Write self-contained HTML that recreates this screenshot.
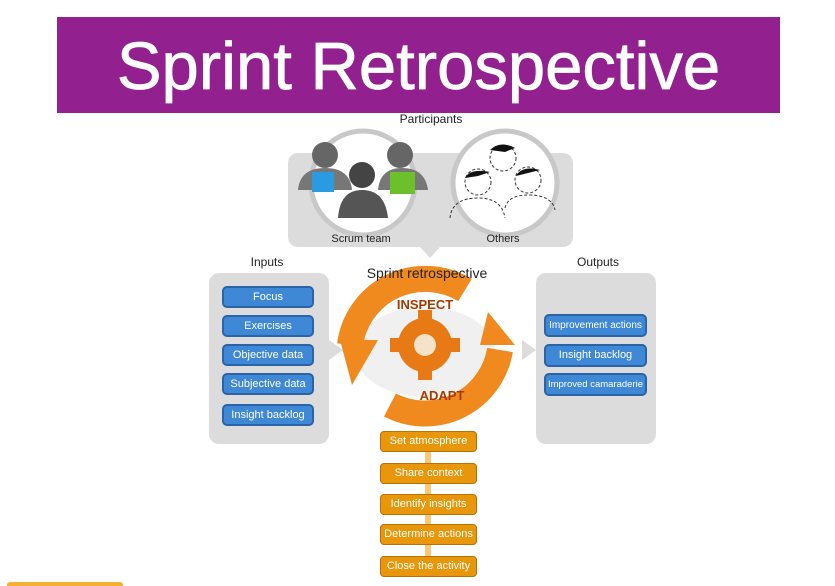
<!DOCTYPE html>
<html><head><meta charset="utf-8"><style>
body{margin:0;width:835px;height:586px;background:#fff;position:relative;overflow:hidden;font-family:"Liberation Sans",sans-serif}
.t{position:absolute;font-size:12px;color:#222;transform:translateX(-50%);white-space:nowrap}
.b{position:absolute;background:#3f88d6;border:2px solid #2a63a8;border-radius:5px;color:#fff;font-size:11px;text-align:center;box-sizing:border-box;white-space:nowrap;overflow:hidden}
.o{position:absolute;left:380px;width:97px;height:21px;line-height:19px;background:#e8960a;border:1px solid #b97208;border-radius:4px;color:#fff;font-size:11px;text-align:center;box-sizing:border-box}
</style></head><body>
<div style="position:absolute;left:57px;top:17px;width:723px;height:96px;background:#92218f"></div>
<div style="position:absolute;left:57px;top:19px;width:723px;height:96px;color:#fff;font-size:67px;line-height:96px;text-align:center;-webkit-text-stroke:0.8px #fff">Sprint Retrospective</div>

<svg width="835" height="586" style="position:absolute;left:0;top:0">
<rect x="288" y="153" width="285" height="94" rx="10" fill="#dcdcdc"/>
<polygon points="420,247 440,247 430,258" fill="#dcdcdc"/>
<circle cx="363" cy="183" r="52" fill="#fff" stroke="#c8c8c8" stroke-width="5"/>
<circle cx="505" cy="183" r="52" fill="#fff" stroke="#c8c8c8" stroke-width="5"/>
<circle cx="325" cy="155" r="13" fill="#666"/><path d="M298 190 Q300 168 325 168 Q350 168 352 190Z" fill="#777"/>
<rect x="312" y="172" width="22" height="20" fill="#2a9be0"/>
<circle cx="400" cy="155" r="13" fill="#666"/><path d="M378 190 Q380 168 402 168 Q425 168 428 190Z" fill="#777"/>
<rect x="390" y="172" width="25" height="22" fill="#6cc12a"/>
<circle cx="362" cy="175" r="13" fill="#444"/><path d="M338 218 Q340 190 362 190 Q385 190 388 218Z" fill="#555"/>
<g fill="none" stroke="#333" stroke-dasharray="3,2">
<circle cx="503" cy="158" r="13"/><circle cx="478" cy="182" r="13"/><circle cx="528" cy="180" r="13"/>
<path d="M450 218 Q452 198 478 198 Q502 198 505 218"/><path d="M505 208 Q508 195 528 195 Q552 195 555 210"/>
</g>
<path d="M490 150 Q500 140 515 148 L505 152Z" fill="#111"/>
<path d="M465 178 Q470 168 490 172 L478 176Z" fill="#111"/>
<path d="M516 176 Q522 165 540 170 L528 173Z" fill="#111"/>

<rect x="209" y="273" width="120" height="171" rx="10" fill="#dcdcdc"/>
<rect x="536" y="273" width="120" height="171" rx="10" fill="#dcdcdc"/>
<polygon points="329,340 343,350 329,360" fill="#dcdcdc"/>
<polygon points="522,340 536,350 522,360" fill="#dcdcdc"/>

<ellipse cx="425" cy="352" rx="70" ry="45" fill="#f0f0f0"/>
<path d="M350 345 A76 76 0 0 1 465 290" fill="none" stroke="#f08a1e" stroke-width="26"/>
<polygon points="340,340 378,340 352,385" fill="#f08a1e"/>
<path d="M500 350 A76 76 0 0 1 390 405" fill="none" stroke="#f08a1e" stroke-width="26"/>
<polygon points="488,312 515,345 480,345" fill="#f08a1e"/>
<circle cx="425" cy="345" r="27" fill="#e77a14"/>
<g fill="#e77a14"><rect x="418" y="310" width="14" height="14"/><rect x="418" y="366" width="14" height="14"/><rect x="390" y="338" width="14" height="14"/><rect x="446" y="338" width="14" height="14"/></g>
<circle cx="425" cy="345" r="11" fill="#f6e2c8"/>
<text x="425" y="309" font-size="13" font-weight="bold" fill="#a83a00" text-anchor="middle" font-family="Liberation Sans">INSPECT</text>
<text x="442" y="400" font-size="13" font-weight="bold" fill="#a83a00" text-anchor="middle" font-family="Liberation Sans">ADAPT</text>
<rect x="425" y="440" width="6" height="128" fill="#f7c877"/>
<rect x="7" y="582" width="116" height="6" rx="3" fill="#f4b030"/>
</svg>

<div class="t" style="left:431px;top:112px">Participants</div>
<div class="t" style="left:361px;top:233px;font-size:11px">Scrum team</div>
<div class="t" style="left:503px;top:233px;font-size:11px">Others</div>
<div class="t" style="left:267px;top:255px">Inputs</div>
<div class="t" style="left:598px;top:255px">Outputs</div>
<div class="t" style="left:427px;top:265px;font-size:14px">Sprint retrospective</div>

<div class="b" style="left:222px;top:286px;width:92px;height:22px;line-height:18px">Focus</div>
<div class="b" style="left:222px;top:315px;width:92px;height:22px;line-height:18px">Exercises</div>
<div class="b" style="left:222px;top:344px;width:92px;height:22px;line-height:18px">Objective data</div>
<div class="b" style="left:222px;top:373px;width:92px;height:22px;line-height:18px">Subjective data</div>
<div class="b" style="left:222px;top:404px;width:92px;height:22px;line-height:18px">Insight backlog</div>
<div class="b" style="left:544px;top:314px;width:103px;height:23px;line-height:19px;font-size:10px">Improvement actions</div>
<div class="b" style="left:544px;top:344px;width:103px;height:23px;line-height:19px">Insight backlog</div>
<div class="b" style="left:544px;top:373px;width:103px;height:23px;line-height:19px;font-size:9.5px">Improved camaraderie</div>

<div class="o" style="top:431px">Set atmosphere</div>
<div class="o" style="top:463px">Share context</div>
<div class="o" style="top:494px">Identify insights</div>
<div class="o" style="top:524px">Determine actions</div>
<div class="o" style="top:556px">Close the activity</div>
</body></html>
